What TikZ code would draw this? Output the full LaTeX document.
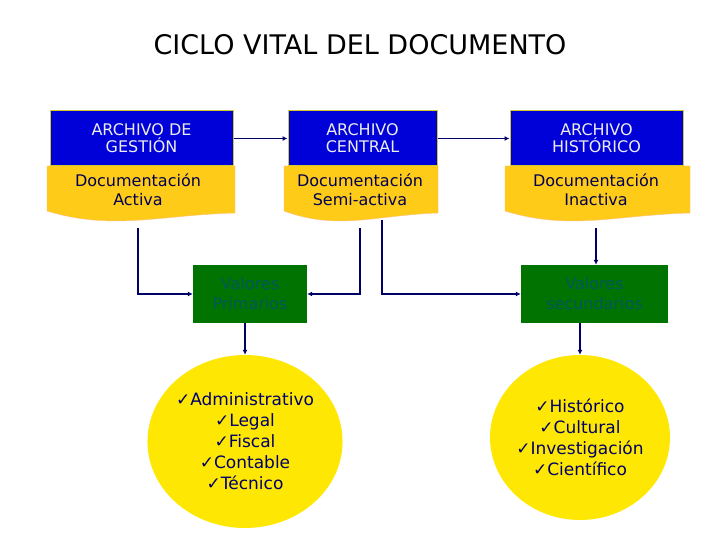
\documentclass[tikz,border=0pt]{standalone}
\usepackage{fontspec}
\setmainfont{DejaVu Sans}
\begin{document}
\begin{tikzpicture}[x=1pt,y=-1pt,
  bluebox/.style={draw=yellow!80!black,fill=blue!85!black,line width=1pt,text=gray!15,font=\fontsize{16}{17}\selectfont,align=center,inner sep=0pt},
  doctext/.style={text=blue!30!black,font=\fontsize{16}{19}\selectfont,align=center},
  greenbox/.style={fill=green!45!black,text=teal!70!black,font=\fontsize{16}{20}\selectfont,align=center,inner sep=0pt},
  oval/.style={ellipse,fill=yellow!90!orange,text=blue!40!black,font=\fontsize{17}{21}\selectfont,align=center,inner sep=0pt},
  conn/.style={draw=blue!40!black,line width=1.6pt,-{Latex[length=5pt,width=5pt]}}]
\usetikzlibrary{shapes.geometric,arrows.meta}
\useasboundingbox (0,0) rectangle (720,540);
\node[font=\fontsize{27}{30}\selectfont] (title) at (360,45) {CICLO VITAL DEL DOCUMENTO};
% document shapes
\newcommand{\docshape}[4]{%
  \fill[orange!45!yellow!90!white,draw=orange!50,line width=0.4pt] (#1,166) -- (#2,166) -- (#2,#4) .. controls ({#1+0.6*(#2-#1)},{#4+2}) and ({#1+0.35*(#2-#1)},{#3+20}) .. (#1,#3) -- cycle;}
\docshape{47}{235}{211}{213}
\docshape{284}{438}{211}{213}
\docshape{505}{690}{211}{213}
\node[bluebox,minimum width=183pt,minimum height=55pt] (b1) at (141.5,138.5) {ARCHIVO DE\\GESTIÓN};
\node[bluebox,minimum width=149pt,minimum height=55pt] (b2) at (362.5,138.5) {ARCHIVO\\CENTRAL};
\node[bluebox,minimum width=173pt,minimum height=55pt] (b3) at (596.5,138.5) {ARCHIVO\\HISTÓRICO};
\node[doctext] (d1) at (138,190) {Documentación\\Activa};
\node[doctext] (d2) at (360,190) {Documentación\\Semi-activa};
\node[doctext] (d3) at (596,190) {Documentación\\Inactiva};
\node[greenbox,minimum width=114pt,minimum height=58pt] (g1) at (250,294) {Valores\\Primarios};
\node[greenbox,minimum width=147pt,minimum height=58pt] (g2) at (594.5,294) {Valores\\secundarios};
\node[oval,minimum width=174pt,minimum height=173pt] (e1) at (245,441.5) {✓Administrativo\\✓Legal\\✓Fiscal\\✓Contable\\✓Técnico};
\node[oval,minimum width=174pt,minimum height=165pt] (e2) at (580,437.5) {✓Histórico\\✓Cultural\\✓Investigación\\✓Científico};
\coordinate (s1) at (138,228);
\coordinate (s2) at (360,228);
\coordinate (s3) at (382,220);
\coordinate (s4) at (596,228);
\draw[conn] (b1.east) -- (b2.west);
\draw[conn] (b2.east) -- (b3.west);
\draw[conn] (s1) |- (g1.west);
\draw[conn] (s2) |- (g1.east);
\draw[conn] (s3) |- (g2.west);
\draw[conn] (s4) -- (g2.north -| s4);
\draw[conn] (g1.south -| e1.north) -- (e1.north);
\draw[conn] (g2.south -| e2.north) -- (e2.north);
\end{tikzpicture}
\end{document}
